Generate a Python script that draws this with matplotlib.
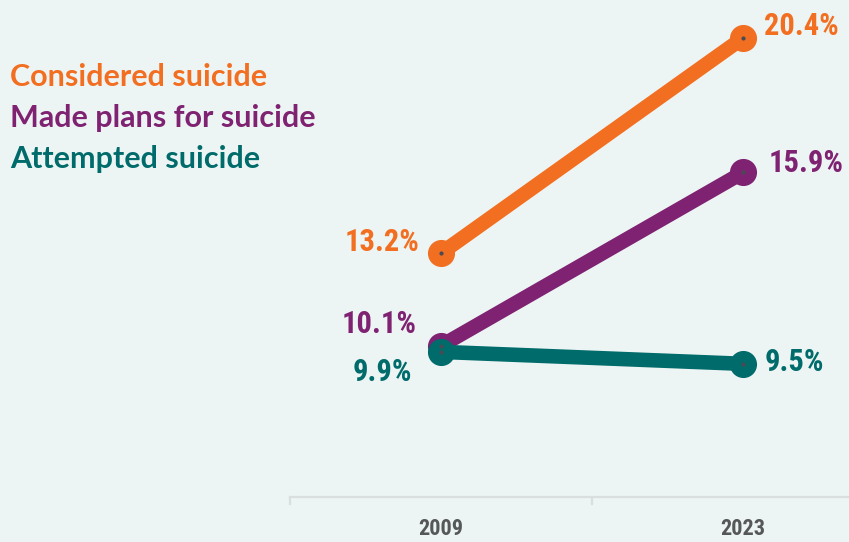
import matplotlib.pyplot as plt

years = ["2009", "2023"]
series_names = ["Considered suicide", "Made plans for suicide", "Attempted suicide"]
considered = [13.2, 20.4]
made_plans = [10.1, 15.9]
attempted = [9.9, 9.5]
colors = ["#F26F22", "#7E2271", "#006B6B"]

BG = "#EDF5F4"
num_font = ["Roboto Condensed", "DejaVu Sans"]
leg_font = ["Lato", "DejaVu Sans"]

fig = plt.figure(figsize=(8.49, 5.42), dpi=100, facecolor=BG)
ax = fig.add_axes([0, 0, 1, 1], facecolor=BG)
ax.set_xlim(-1.46, 1.351)
ax.set_ylim(3.54, 21.67)
ax.axis("off")

# axis line and category boundary ticks
ax.plot([-0.5, 1.5], [5.05, 5.05], color="#D9DEDE", lw=1.6, zorder=1)
for t in [-0.5, 0.5]:
    ax.plot([t, t], [5.05, 4.8], color="#D9DEDE", lw=1.6, zorder=1)
for i, yr in enumerate(years):
    ax.text(i, 3.98, yr, ha="center", va="center", fontsize=16, fontweight="bold",
            family=num_font, color="#555759")

x = [0, 1]
data = [considered, made_plans, attempted]
for vals, c in zip(data, colors):
    ax.plot(x, vals, color=c, lw=10.5, solid_capstyle="round", marker="o",
            markersize=18.5, zorder=3)
    ax.plot(x, vals, ls="none", marker="o", markersize=2, color="#4a4a55", zorder=4)

# value labels
lab = dict(fontsize=22, fontweight="bold", family=num_font)
ax.text(-0.07, considered[0] + 0.37, f"{considered[0]}%", ha="right", va="center", color=colors[0], **lab)
ax.text(-0.08, made_plans[0] + 0.72, f"{made_plans[0]}%", ha="right", va="center", color=colors[1], **lab)
ax.text(-0.095, attempted[0] - 0.68, f"{attempted[0]}%", ha="right", va="center", color=colors[2], **lab)
ax.text(1.07, considered[1] + 0.4, f"{considered[1]}%", ha="left", va="center", color=colors[0], **lab)
ax.text(1.085, made_plans[1] + 0.33, f"{made_plans[1]}%", ha="left", va="center", color=colors[1], **lab)
ax.text(1.073, attempted[1] + 0.07, f"{attempted[1]}%", ha="left", va="center", color=colors[2], **lab)

# legend as colored text
for k, (name, c) in enumerate(zip(series_names, colors)):
    fig.text(10 / 849, 1 - (77 + 41 * k) / 542, name, ha="left", va="center",
             fontsize=22, fontweight="bold", family=leg_font, color=c)

fig.savefig("out.png", dpi=100, facecolor=BG)
